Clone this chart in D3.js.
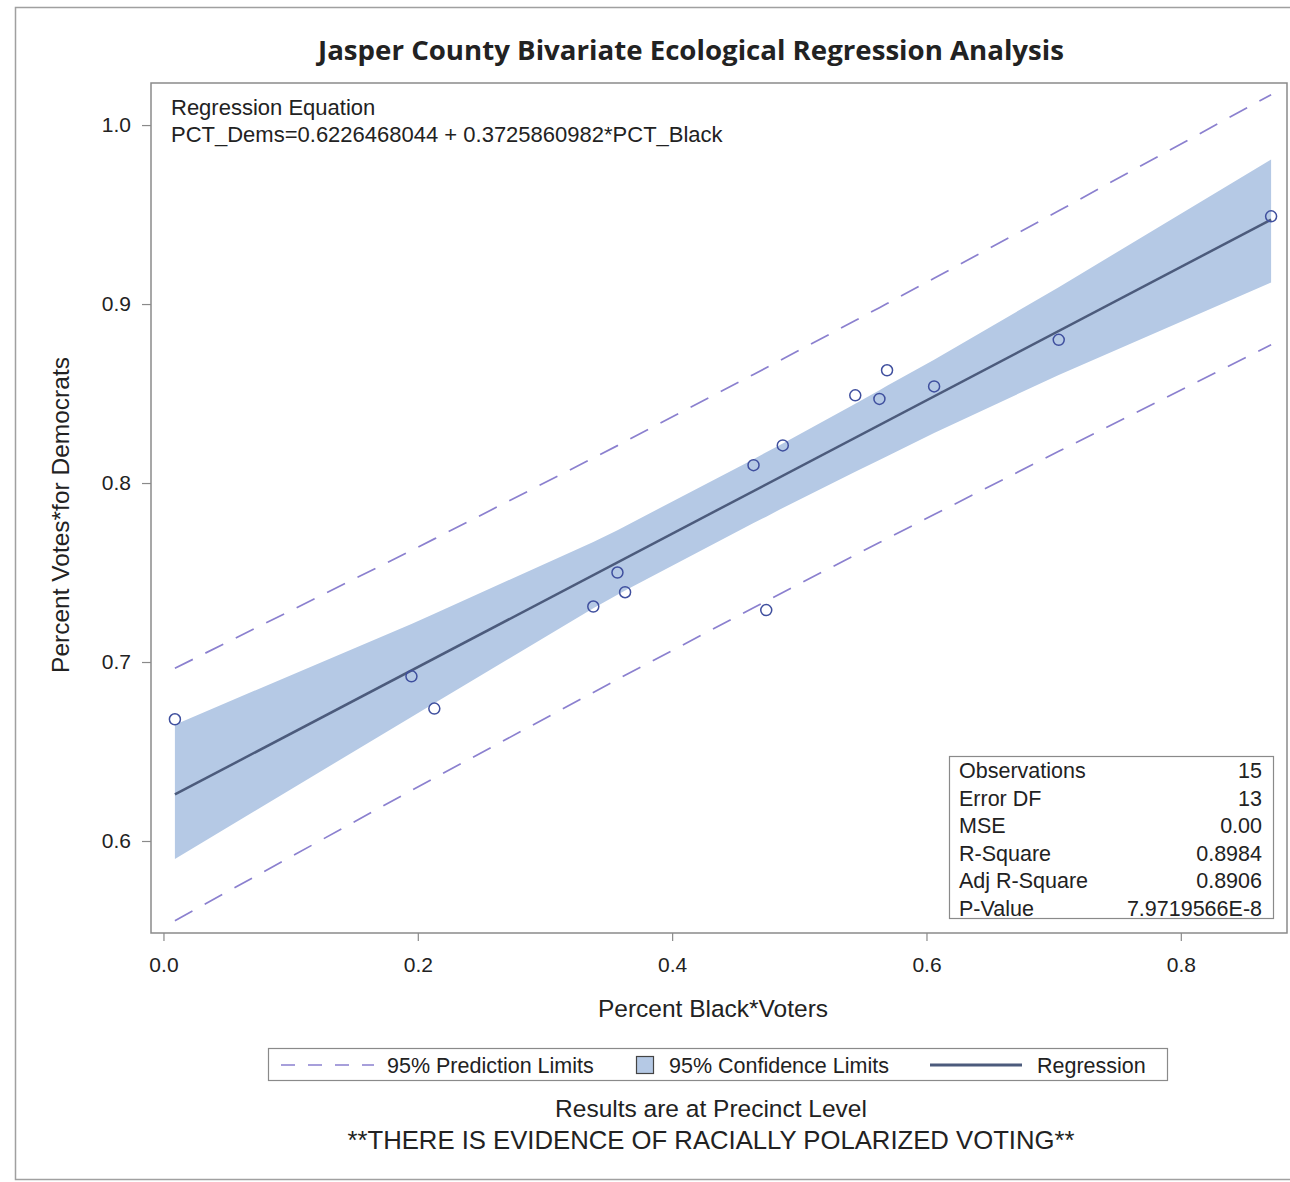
<!DOCTYPE html>
<html>
<head>
<meta charset="utf-8">
<script src="https://cdn.jsdelivr.net/npm/d3@7"></script>
<style>
  body { margin: 0; background: #fff; }
  text { font-family: "Liberation Sans", Arial, sans-serif; fill: #222; }
</style>
</head>
<body>
<svg id="chart" width="1290" height="1182"></svg>
<script>
var pctBlack = [0.009, 0.195, 0.213, 0.338, 0.357, 0.363, 0.464, 0.474, 0.487, 0.544, 0.563, 0.569, 0.606, 0.704, 0.871];
var pctDems  = [0.668, 0.692, 0.674, 0.731, 0.750, 0.739, 0.810, 0.729, 0.821, 0.849, 0.847, 0.863, 0.854, 0.880, 0.949];

// band x positions and limits
var bandX   = [0.009, 0.195, 0.213, 0.338, 0.357, 0.363, 0.464, 0.474, 0.487, 0.544, 0.563, 0.569, 0.606, 0.704, 0.871];
var clmUp   = [0.665, 0.7213, 0.7270, 0.7670, 0.7736, 0.7759, 0.8133, 0.8172, 0.8221, 0.8443, 0.8519, 0.8543, 0.8689, 0.9094, 0.9808];
var clmLow  = [0.590, 0.6693, 0.6770, 0.7300, 0.7376, 0.7399, 0.7777, 0.7812, 0.7861, 0.8063, 0.8129, 0.8149, 0.8279, 0.8604, 0.9120];
var pliUp   = [0.6965, 0.7623, 0.7688, 0.8140, 0.8209, 0.8232, 0.8607, 0.8644, 0.8693, 0.8908, 0.8980, 0.9003, 0.9144, 0.9521, 1.0170];
var pliLow  = [0.5555, 0.6283, 0.6352, 0.6830, 0.6903, 0.6926, 0.7303, 0.7340, 0.7389, 0.7598, 0.7668, 0.7689, 0.7824, 0.8177, 0.8772];

var intercept = 0.6226468044, slope = 0.3725860982;

var xTicks = [0, 0.2, 0.4, 0.6, 0.8];
var yTicks = [0.6, 0.7, 0.8, 0.9, 1.0];

var statNames  = ["Observations", "Error DF", "MSE", "R-Square", "Adj R-Square", "P-Value"];
var statValues = ["15", "13", "0.00", "0.8984", "0.8906", "7.9719566E-8"];

var bandColor = "#b5c9e5", lineColor = "#4c5b7c", dotColor = "#3f4f9e", dashColor = "#8b80cf";

var svg = d3.select("#chart");

// outer frame
svg.append("rect").attr("x", 15.5).attr("y", 7.5).attr("width", 1300).attr("height", 1172)
   .attr("fill", "none").attr("stroke", "#a0a0a0").attr("stroke-width", 1.5);

var L = 151, R = 1287, T = 83, B = 933;
var x = d3.scaleLinear().domain([-0.0098, 0.8835]).range([L, R]);
var y = d3.scaleLinear().domain([0.5486, 1.0235]).range([B, T]);

// title
svg.append("text").attr("x", 691).attr("y", 60).attr("text-anchor", "middle")
   .style("font-family", "'Open Sans', 'Noto Sans', sans-serif")
   .attr("font-weight", "bold").attr("font-size", "26px")
   .attr("textLength", 746).attr("lengthAdjust", "spacingAndGlyphs")
   .text("Jasper County Bivariate Ecological Regression Analysis");

var band = d3.range(bandX.length);

// confidence band
svg.append("path").datum(band)
   .attr("fill", bandColor)
   .attr("d", d3.area().x(function(i) { return x(bandX[i]); })
                       .y0(function(i) { return y(clmLow[i]); })
                       .y1(function(i) { return y(clmUp[i]); }));

// prediction limits
[pliUp, pliLow].forEach(function(arr) {
  svg.append("path").datum(band)
     .attr("fill", "none").attr("stroke", dashColor).attr("stroke-width", 1.7)
     .attr("stroke-dasharray", "20,14")
     .attr("d", d3.line().x(function(i) { return x(bandX[i]); }).y(function(i) { return y(arr[i]); }));
});

// regression line
var ext = d3.extent(pctBlack);
svg.append("path").datum(ext)
   .attr("fill", "none").attr("stroke", lineColor).attr("stroke-width", 2.5)
   .attr("d", d3.line().x(function(d) { return x(d); }).y(function(d) { return y(intercept + slope * d); }));

// points
svg.selectAll("circle.pt").data(pctBlack).enter().append("circle")
   .attr("class", "pt")
   .attr("cx", function(d) { return x(d); })
   .attr("cy", function(d, i) { return y(pctDems[i]); })
   .attr("r", 5.5)
   .attr("fill", "none").attr("stroke", dotColor).attr("stroke-width", 1.5);

// plot frame
svg.append("rect").attr("x", L).attr("y", T).attr("width", R - L).attr("height", B - T)
   .attr("fill", "none").attr("stroke", "#8a8a8a").attr("stroke-width", 1.5);

// axes
var xAxis = svg.append("g").attr("transform", "translate(0," + B + ")")
   .call(d3.axisBottom(x).tickValues(xTicks).tickFormat(d3.format(".1f")).tickSize(8).tickPadding(16));
var yAxis = svg.append("g").attr("transform", "translate(" + L + ",0)")
   .call(d3.axisLeft(y).tickValues(yTicks).tickFormat(d3.format(".1f")).tickSize(9).tickPadding(11));
[xAxis, yAxis].forEach(function(g) {
  g.select(".domain").remove();
  g.selectAll(".tick line").attr("stroke", "#8a8a8a").attr("stroke-width", 1.2);
  g.selectAll(".tick text").attr("font-size", "21px").style("font-family", "'Liberation Sans', Arial, sans-serif").attr("fill", "#222");
});

// axis labels
svg.append("text").attr("x", 713).attr("y", 1017).attr("text-anchor", "middle")
   .attr("font-size", "24.5px").text("Percent Black*Voters");
svg.append("text").attr("transform", "translate(69,515) rotate(-90)").attr("text-anchor", "middle")
   .attr("font-size", "24.5px").text("Percent Votes*for Democrats");

// regression equation
svg.append("text").attr("x", 171).attr("y", 115).attr("font-size", "22px").text("Regression Equation");
svg.append("text").attr("x", 171).attr("y", 142).attr("font-size", "22px")
   .text("PCT_Dems=" + intercept + " + " + slope + "*PCT_Black");

// stats inset
var sb = svg.append("g");
sb.append("rect").attr("x", 949.5).attr("y", 756.5).attr("width", 324).attr("height", 162)
  .attr("fill", "#fff").attr("stroke", "#8a8a8a").attr("stroke-width", 1.2);
statNames.forEach(function(n, i) {
  sb.append("text").attr("x", 959).attr("y", 778 + i * 27.5).attr("font-size", "21.5px").text(n);
  sb.append("text").attr("x", 1262).attr("y", 778 + i * 27.5).attr("font-size", "21.5px")
    .attr("text-anchor", "end").text(statValues[i]);
});

// legend
var lg = svg.append("g");
lg.append("rect").attr("x", 268.5).attr("y", 1048.5).attr("width", 899).attr("height", 32)
  .attr("fill", "#fff").attr("stroke", "#8a8a8a").attr("stroke-width", 1.2);
lg.append("line").attr("x1", 281).attr("x2", 374).attr("y1", 1065).attr("y2", 1065)
  .attr("stroke", dashColor).attr("stroke-width", 1.6).attr("stroke-dasharray", "14,13");
lg.append("text").attr("x", 387).attr("y", 1073).attr("font-size", "21.5px").text("95% Prediction Limits");
lg.append("rect").attr("x", 636.5).attr("y", 1056.5).attr("width", 17).attr("height", 17)
  .attr("fill", bandColor).attr("stroke", "#444").attr("stroke-width", 1.2);
lg.append("text").attr("x", 669).attr("y", 1073).attr("font-size", "21.5px").text("95% Confidence Limits");
lg.append("line").attr("x1", 930).attr("x2", 1022).attr("y1", 1065).attr("y2", 1065)
  .attr("stroke", lineColor).attr("stroke-width", 3);
lg.append("text").attr("x", 1037).attr("y", 1073).attr("font-size", "21.5px").text("Regression");

// footnotes
svg.append("text").attr("x", 711).attr("y", 1117).attr("text-anchor", "middle")
   .attr("font-size", "24.5px").text("Results are at Precinct Level");
svg.append("text").attr("x", 711).attr("y", 1149).attr("text-anchor", "middle")
   .attr("font-size", "25.7px").text("**THERE IS EVIDENCE OF RACIALLY POLARIZED VOTING**");
</script>
</body>
</html>
